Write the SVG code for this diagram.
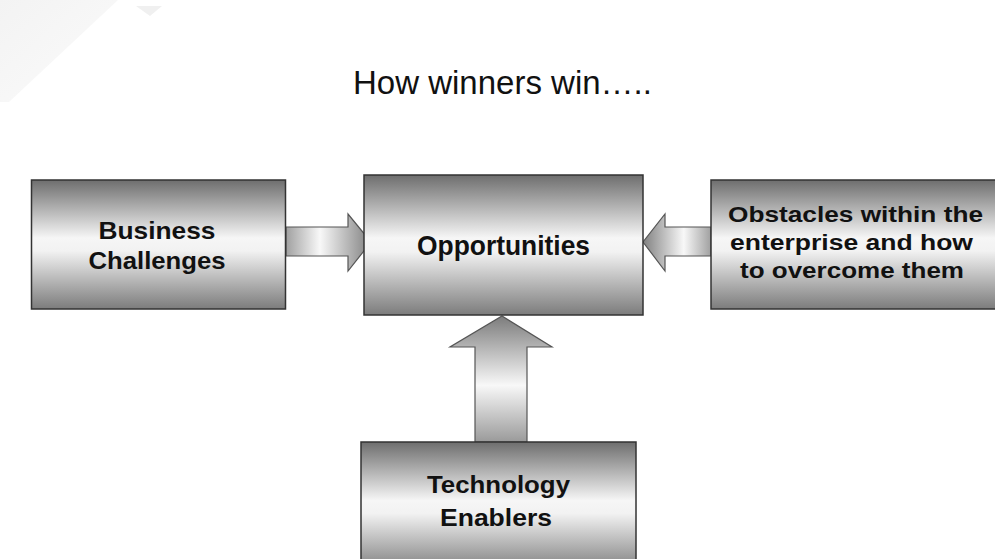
<svg xmlns="http://www.w3.org/2000/svg" width="995" height="559" viewBox="0 0 995 559">
<defs>
<linearGradient id="boxg" x1="0" y1="0" x2="0" y2="1">
<stop offset="0" stop-color="#6e6e6e"/>
<stop offset="0.45" stop-color="#f6f6f6"/>
<stop offset="0.55" stop-color="#f2f2f2"/>
<stop offset="1" stop-color="#7c7c7c"/>
</linearGradient>
<linearGradient id="arrR" x1="0" y1="0" x2="1" y2="0">
<stop offset="0" stop-color="#a0a0a0"/>
<stop offset="0.4" stop-color="#f8f8f8"/>
<stop offset="1" stop-color="#808080"/>
</linearGradient>
<linearGradient id="arrL" x1="1" y1="0" x2="0" y2="0">
<stop offset="0" stop-color="#a0a0a0"/>
<stop offset="0.4" stop-color="#f8f8f8"/>
<stop offset="1" stop-color="#808080"/>
</linearGradient>
<linearGradient id="arrU" x1="0" y1="1" x2="0" y2="0">
<stop offset="0" stop-color="#9a9a9a"/>
<stop offset="0.45" stop-color="#f8f8f8"/>
<stop offset="1" stop-color="#7c7c7c"/>
</linearGradient>
<linearGradient id="bgg" x1="0" y1="0" x2="1" y2="1">
<stop offset="0" stop-color="#f3f3f3"/>
<stop offset="1" stop-color="#fbfbfb"/>
</linearGradient>
</defs>
<style>
.box{fill:url(#boxg);stroke:#333;stroke-width:1.5}
.arrow{stroke:#555;stroke-width:1.2;stroke-linejoin:miter}
.lbl{font-family:"Liberation Sans",Arial,sans-serif;font-weight:bold;font-size:24px;fill:#111;text-anchor:middle}
.title{font-family:"Liberation Sans",Arial,sans-serif;font-size:33px;fill:#111}
</style>
<rect width="995" height="559" fill="#fff"/>
<polygon points="0,0 118,0 9,102 0,102" fill="url(#bgg)"/>
<polygon points="136,6 162,6 150,16" fill="#f0f0f0"/>
<text class="title" x="353" y="94">How winners win…..</text>
<g id="connectors">
<polygon class="arrow" fill="url(#arrR)" points="286,227 348,227 348,214 371,242 348,271 348,256 286,256"/>
<polygon class="arrow" fill="url(#arrL)" points="711,227 665,227 665,214 643,242 665,271 665,256 711,256"/>
<polygon class="arrow" fill="url(#arrU)" points="475,442 475,347 450,347 502,316 552,347 527,347 527,442"/>
</g>
<g id="business">
<rect class="box" x="31.5" y="180" width="254" height="129"/>
<text class="lbl" x="157" y="239" textLength="117" lengthAdjust="spacingAndGlyphs">Business</text>
<text class="lbl" x="157" y="269" textLength="137" lengthAdjust="spacingAndGlyphs">Challenges</text>
</g>
<g id="opportunities">
<rect class="box" x="364" y="175" width="279" height="140"/>
<text class="lbl" x="503.5" y="255" textLength="173" lengthAdjust="spacingAndGlyphs" style="font-size:27px">Opportunities</text>
</g>
<g id="obstacles">
<rect class="box" x="711" y="180" width="300" height="129"/>
<text class="lbl" x="855.5" y="222" textLength="255" lengthAdjust="spacingAndGlyphs" style="font-size:22px">Obstacles within the</text>
<text class="lbl" x="851.5" y="250" textLength="243" lengthAdjust="spacingAndGlyphs" style="font-size:22px">enterprise and how</text>
<text class="lbl" x="852" y="278" textLength="224" lengthAdjust="spacingAndGlyphs" style="font-size:22px">to overcome them</text>
</g>
<g id="technology">
<rect class="box" x="361" y="442" width="275" height="130"/>
<text class="lbl" x="498.5" y="493" textLength="143" lengthAdjust="spacingAndGlyphs">Technology</text>
<text class="lbl" x="496" y="526" textLength="112" lengthAdjust="spacingAndGlyphs">Enablers</text>
</g>
</svg>
